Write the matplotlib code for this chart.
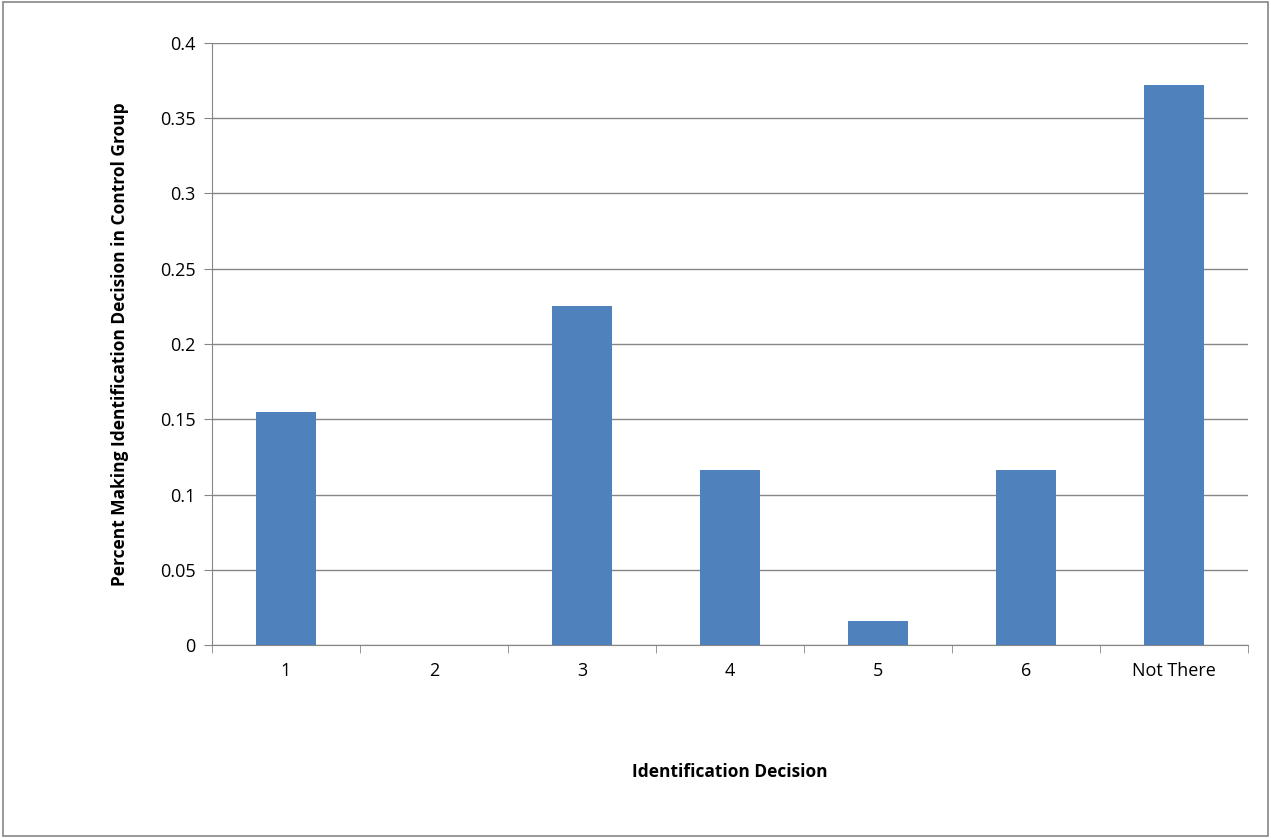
import matplotlib.pyplot as plt
from matplotlib.patches import Rectangle
import numpy as np

categories = ['1', '2', '3', '4', '5', '6', 'Not There']
values = [0.155, 0.0, 0.225, 0.116, 0.016, 0.116, 0.372]

plt.rcParams['font.family'] = ['Open Sans', 'DejaVu Sans']

fig = plt.figure(figsize=(12.71, 8.38), dpi=100)
fig.patches.append(Rectangle((0.002, 0.002), 0.996, 0.996, transform=fig.transFigure,
                             fill=False, edgecolor='#868686', linewidth=1.2))
ax = fig.add_axes([0.1668, 0.2303, 0.8151, 0.7184])

x = np.arange(len(categories))
ax.bar(x, values, width=0.4, color='#4F81BD', zorder=3)
ax.set_xlim(-0.5, len(categories) - 0.5)
ax.set_ylim(0, 0.4)
ax.set_yticks(np.arange(0, 0.401, 0.05))
ax.set_yticklabels(['0', '0.05', '0.1', '0.15', '0.2', '0.25', '0.3', '0.35', '0.4'], fontsize=13)
ax.yaxis.grid(True, color='#868686', linewidth=1)
ax.set_axisbelow(True)

ax.set_xticks(x)
ax.set_xticklabels(categories, fontsize=13)
ax.tick_params(axis='x', length=0, pad=12)
ax.set_xticks(np.arange(-0.5, len(categories), 1), minor=True)
ax.tick_params(axis='x', which='minor', length=6, color='#868686')
ax.tick_params(axis='y', length=6, color='#868686', pad=6)

for s in ['top', 'right']:
    ax.spines[s].set_visible(False)
for s in ['left', 'bottom']:
    ax.spines[s].set_color('#868686')

ax.set_xlabel('Identification Decision', fontsize=12.5, fontweight='bold', labelpad=60)
ax.set_ylabel('Percent Making Identification Decision in Control Group', fontsize=12.5,
              fontweight='bold', labelpad=22)

fig.savefig('out.png', dpi=100)
